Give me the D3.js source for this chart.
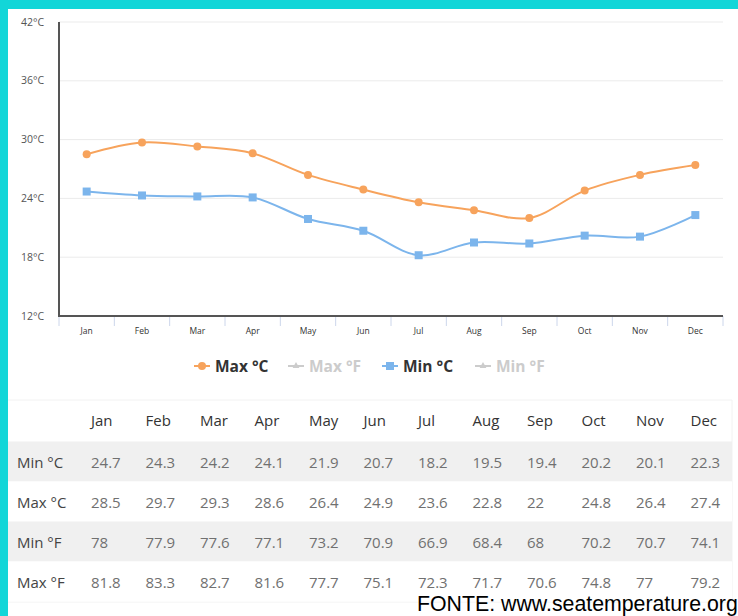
<!DOCTYPE html>
<html>
<head>
<meta charset="utf-8">
<script src="https://cdn.jsdelivr.net/npm/d3@7"></script>
<style>
  body { margin: 0; background: #fff; }
  svg { display: block; }
</style>
</head>
<body>
<div id="chart"></div>
<script>
var months = ["Jan","Feb","Mar","Apr","May","Jun","Jul","Aug","Sep","Oct","Nov","Dec"];
var minC = [24.7,24.3,24.2,24.1,21.9,20.7,18.2,19.5,19.4,20.2,20.1,22.3];
var maxC = [28.5,29.7,29.3,28.6,26.4,24.9,23.6,22.8,22,24.8,26.4,27.4];
var minF = [78,77.9,77.6,77.1,73.2,70.9,66.9,68.4,68,70.2,70.7,74.1];
var maxF = [81.8,83.3,82.7,81.6,77.7,75.1,72.3,71.7,70.6,74.8,77,79.2];
var yTicks = [12,18,24,30,36,42];
var legendKeys = ["Max °C","Max °F","Min °C","Min °F"];

var W = 738, H = 616;
var svg = d3.select("#chart").append("svg").attr("width", W).attr("height", H);

// cyan frame
svg.append("rect").attr("x",0).attr("y",0).attr("width",W).attr("height",9).attr("fill","#12d6d8");
svg.append("rect").attr("x",0).attr("y",0).attr("width",8).attr("height",H).attr("fill","#12d6d8");

var x = d3.scaleBand().domain(months).range([59, 723]);
var y = d3.scaleLinear().domain([12, 42]).range([316, 22]);

var g = svg.append("g");

// grid
g.selectAll(".grid").data(yTicks.slice(1)).enter().append("line")
    .attr("x1", 59).attr("x2", 723)
    .attr("y1", function(d){ return y(d); }).attr("y2", function(d){ return y(d); })
    .attr("stroke", "#ebebeb").attr("stroke-width", 1);

// y labels
g.selectAll(".ylab").data(yTicks).enter().append("text")
    .attr("x", 44).attr("y", function(d){ return y(d) + 3.5; })
    .attr("text-anchor", "end")
    .attr("font-family", "Open Sans, sans-serif").attr("font-size", 10.5)
    .attr("fill", "#555")
    .text(function(d){ return d + "°C"; });

// x tick marks
var tickPos = months.map(function(m){ return x(m); }).concat([723]);
g.selectAll(".xt").data(tickPos).enter().append("line")
    .attr("x1", function(d){ return d; }).attr("x2", function(d){ return d; })
    .attr("y1", 316).attr("y2", 326)
    .attr("stroke", "#ccd6eb").attr("stroke-width", 1);

// axis lines
g.append("line").attr("x1", 59).attr("x2", 59).attr("y1", 22).attr("y2", 317)
    .attr("stroke", "#555").attr("stroke-width", 2);
g.append("line").attr("x1", 58).attr("x2", 723).attr("y1", 316).attr("y2", 316)
    .attr("stroke", "#555").attr("stroke-width", 2);

// x labels
g.selectAll(".xlab").data(months).enter().append("text")
    .attr("x", function(d){ return x(d) + x.bandwidth()/2; }).attr("y", 334)
    .attr("text-anchor", "middle")
    .attr("font-family", "Open Sans, sans-serif").attr("font-size", 8.5)
    .attr("fill", "#333")
    .text(function(d){ return d; });

var line = d3.line()
    .x(function(d, i){ return x(months[i]) + x.bandwidth()/2; })
    .y(function(d){ return y(d); })
    .curve(d3.curveCatmullRom.alpha(0.5));

var orange = "#f7a35c", blue = "#7cb5ec";

g.append("path").datum(minC).attr("d", line).attr("fill", "none")
    .attr("stroke", blue).attr("stroke-width", 2);
g.selectAll(".minpt").data(minC).enter().append("rect")
    .attr("x", function(d, i){ return x(months[i]) + x.bandwidth()/2 - 4; })
    .attr("y", function(d){ return y(d) - 4; })
    .attr("width", 8).attr("height", 8).attr("fill", blue);

g.append("path").datum(maxC).attr("d", line).attr("fill", "none")
    .attr("stroke", orange).attr("stroke-width", 2);
g.selectAll(".maxpt").data(maxC).enter().append("circle")
    .attr("cx", function(d, i){ return x(months[i]) + x.bandwidth()/2; })
    .attr("cy", function(d){ return y(d); })
    .attr("r", 4).attr("fill", orange);

// legend
var legX = [194, 288, 382, 475];
var legCol = [orange, "#ccc", blue, "#ccc"];
var leg = svg.selectAll(".leg").data(legendKeys).enter().append("g")
    .attr("transform", function(d, i){ return "translate(" + legX[i] + ",366)"; });
leg.append("line").attr("x1", 0).attr("x2", 16).attr("y1", 0).attr("y2", 0)
    .attr("stroke", function(d, i){ return legCol[i]; }).attr("stroke-width", 2);
leg.each(function(d, i){
    var s = d3.select(this);
    if (i === 0) s.append("circle").attr("cx", 8).attr("cy", 0).attr("r", 4).attr("fill", orange);
    else if (i === 2) s.append("rect").attr("x", 4).attr("y", -4).attr("width", 8).attr("height", 8).attr("fill", blue);
    else s.append("path").attr("d", d3.symbol(d3.symbolTriangle, 20)()).attr("transform", "translate(8,0)").attr("fill", "#ccc");
});
leg.append("text").attr("x", 21).attr("y", 5.5)
    .attr("font-family", "Open Sans, sans-serif").attr("font-size", 15.5).attr("font-weight", "bold")
    .attr("fill", function(d, i){ return (i % 2 === 0) ? "#333" : "#ccc"; })
    .text(function(d){ return d; });

// table
var rows = [["Min °C", minC], ["Max °C", maxC], ["Min °F", minF], ["Max °F", maxF]];
var tbl = svg.append("g");
tbl.append("line").attr("x1", 8).attr("x2", 732).attr("y1", 400).attr("y2", 400).attr("stroke", "#f2f2f2");
tbl.append("line").attr("x1", 8).attr("x2", 732).attr("y1", 602).attr("y2", 602).attr("stroke", "#f2f2f2");
tbl.append("line").attr("x1", 732).attr("x2", 732).attr("y1", 400).attr("y2", 602).attr("stroke", "#f2f2f2");
var colX = function(i){ return 91 + i * 54.5; };
tbl.selectAll(".hd").data(months).enter().append("text")
    .attr("x", function(d, i){ return colX(i); }).attr("y", 426)
    .attr("font-family", "Open Sans, sans-serif").attr("font-size", 15)
    .attr("fill", "#333").text(function(d){ return d; });
var rowG = tbl.selectAll(".row").data(rows).enter().append("g")
    .attr("transform", function(d, i){ return "translate(0," + (441.5 + i * 40) + ")"; });
rowG.append("rect").attr("x", 8).attr("y", 0).attr("width", 724).attr("height", 40)
    .attr("fill", function(d, i){ return i % 2 === 0 ? "#f0f0f0" : "#fff"; });
rowG.append("text").attr("x", 17).attr("y", 26)
    .attr("font-family", "Open Sans, sans-serif").attr("font-size", 15)
    .attr("fill", "#444").text(function(d){ return d[0]; });
rowG.each(function(d){
    d3.select(this).selectAll(".v").data(d[1]).enter().append("text")
        .attr("x", function(v, i){ return colX(i); }).attr("y", 26)
        .attr("font-family", "Open Sans, sans-serif").attr("font-size", 15)
        .attr("fill", "#707070").text(function(v){ return v; });
});

svg.append("text").attr("x", 417).attr("y", 611)
    .attr("font-family", "Liberation Sans, Arial, sans-serif").attr("font-size", 21.3)
    .attr("fill", "#000").text("FONTE: www.seatemperature.org");
</script>
</body>
</html>
